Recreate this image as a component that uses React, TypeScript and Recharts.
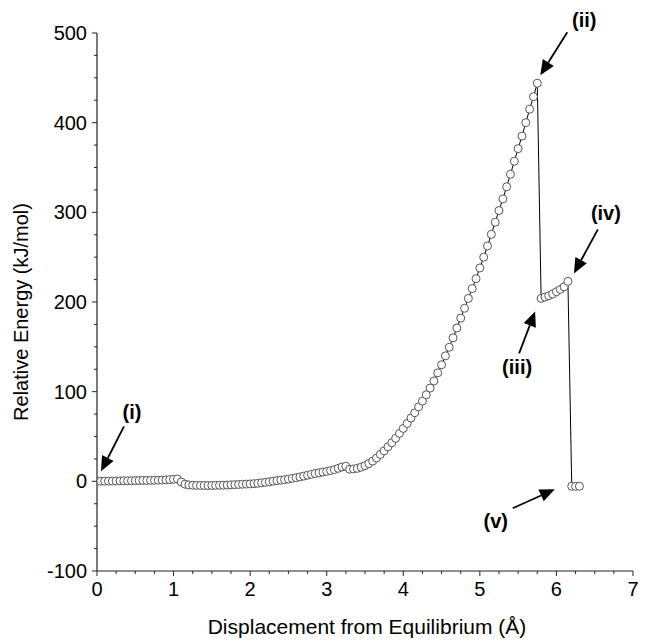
import React from 'react';
import { LineChart, Line, XAxis, YAxis, ReferenceDot } from 'recharts';

const FONT = '"Liberation Sans", Arial, Helvetica, sans-serif';

// Main scan branch: displacement (Å) and relative energy (kJ/mol)
const scanX = [
  0.0, 0.05, 0.1, 0.15, 0.2, 0.25, 0.3, 0.35, 0.4, 0.45,
  0.5, 0.55, 0.6, 0.65, 0.7, 0.75, 0.8, 0.85, 0.9, 0.95,
  1.0, 1.05, 1.1, 1.15, 1.2, 1.25, 1.3, 1.35, 1.4, 1.45,
  1.5, 1.55, 1.6, 1.65, 1.7, 1.75, 1.8, 1.85, 1.9, 1.95,
  2.0, 2.05, 2.1, 2.15, 2.2, 2.25, 2.3, 2.35, 2.4, 2.45,
  2.5, 2.55, 2.6, 2.65, 2.7, 2.75, 2.8, 2.85, 2.9, 2.95,
  3.0, 3.05, 3.1, 3.15, 3.2, 3.25, 3.3, 3.35, 3.4, 3.45,
  3.5, 3.55, 3.6, 3.65, 3.7, 3.75, 3.8, 3.85, 3.9, 3.95,
  4.0, 4.05, 4.1, 4.15, 4.2, 4.25, 4.3, 4.35, 4.4, 4.45,
  4.5, 4.55, 4.6, 4.65, 4.7, 4.75, 4.8, 4.85, 4.9, 4.95,
  5.0, 5.05, 5.1, 5.15, 5.2, 5.25, 5.3, 5.35, 5.4, 5.45,
  5.5, 5.55, 5.6, 5.65, 5.7, 5.75,
];
const scanE = [
  0, 0.1, 0.2, 0.3, 0.3, 0.4, 0.5, 0.6, 0.6, 0.7,
  0.8, 0.9, 1.0, 1.0, 1.1, 1.2, 1.3, 1.4, 1.6, 1.9,
  2.3, 2.6, -0.8, -3.2, -4.0, -4.3, -4.5, -4.6, -4.6, -4.7,
  -4.6, -4.5, -4.4, -4.3, -4.1, -3.9, -3.7, -3.5, -3.3, -3.1,
  -2.9, -2.6, -2.2, -1.7, -1.1, -0.5, 0.2, 0.8, 1.3, 1.8,
  2.5, 3.3, 4.1, 4.9, 5.8, 6.8, 7.8, 8.7, 9.5, 10.3,
  11.0, 12.0, 13.0, 14.5, 16.0, 16.8, 13.5, 13.8, 14.5, 15.8,
  17.5, 19.8, 22.6, 26.0, 30.0, 34.0, 38.5, 43.0, 48.0, 53.5,
  59.0, 64.5, 70.5, 76.5, 83.0, 89.5, 96.5, 104.0, 112.0, 121.0,
  130.0, 140.0, 149.5, 160.0, 171.0, 182.0, 193.0, 204.0, 215.0, 226.0,
  238.0, 250.0, 262.5, 275.5, 289.0, 302.0, 315.0, 328.5, 342.5, 357.0,
  371.0, 385.0, 400.0, 415.0, 429.0, 444.0,
];

// Intermediate branch after the first bond break, (iii) to (iv)
const branchX = [5.8, 5.85, 5.9, 5.95, 6.0, 6.05, 6.1, 6.15];
const branchE = [204, 205.5, 207, 209, 211.5, 214, 217, 223];

// Final products, (v)
const productX = [6.2, 6.25, 6.3];
const productE = [-5.5, -5.6, -5.5];

// Axis ticks (majors labelled, quarters as minor marks)
const xTicks = [
  0, 0.25, 0.5, 0.75, 1, 1.25, 1.5, 1.75, 2, 2.25, 2.5, 2.75, 3, 3.25, 3.5,
  3.75, 4, 4.25, 4.5, 4.75, 5, 5.25, 5.5, 5.75, 6, 6.25, 6.5, 6.75, 7,
];
const xMajor = [0, 1, 2, 3, 4, 5, 6, 7];
const yTicks = [
  -100, -75, -50, -25, 0, 25, 50, 75, 100, 125, 150, 175, 200, 225, 250,
  275, 300, 325, 350, 375, 400, 425, 450, 475, 500,
];
const yMajor = [-100, 0, 100, 200, 300, 400, 500];

// Labelled stationary points
const pointLabels = ['(i)', '(ii)', '(iii)', '(iv)', '(v)'];
const pointX = [0, 5.75, 5.8, 6.15, 6.2];
const pointE = [0, 444, 204, 223, -5.5];

// Pixel offsets of each arrow (tip, tail) and its caption from the marked point
const ARROW_LAYOUT = [
  { tip: [4, -10], tail: [27, -55], text: [35, -62] },
  { tip: [3, -8], tail: [30, -51], text: [47, -56] },
  { tip: [-6, 13], tail: [-22, 55], text: [-24, 76] },
  { tip: [6, -8], tail: [30, -52], text: [38, -61] },
  { tip: [-17, 3], tail: [-59, 22], text: [-76, 42] },
];

const data = [
  ...scanX.map((x, i) => ({ x, e: scanE[i] })),
  ...branchX.map((x, i) => ({ x, e: branchE[i] })),
  ...productX.map((x, i) => ({ x, e: productE[i] })),
];

const AXIS = '#222';
const isMajor = (v: number, list: number[]) => list.some((m) => Math.abs(m - v) < 1e-9);

const XTick = (props: any) => {
  const { x, y, payload } = props;
  const major = isMajor(payload.value, xMajor);
  return (
    <g>
      <line x1={x} x2={x} y1={y} y2={y + (major ? 5 : 3)} stroke={AXIS} strokeWidth={1} />
      {major && (
        <text x={x} y={y + 25} textAnchor="middle" fontSize={20} fontFamily={FONT} fill="#000">
          {payload.value}
        </text>
      )}
    </g>
  );
};

const YTick = (props: any) => {
  const { x, y, payload } = props;
  const major = isMajor(payload.value, yMajor);
  return (
    <g>
      <line x1={x} x2={x - (major ? 5 : 3)} y1={y} y2={y} stroke={AXIS} strokeWidth={1} />
      {major && (
        <text x={x - 10} y={y + 7} textAnchor="end" fontSize={20} fontFamily={FONT} fill="#000">
          {payload.value}
        </text>
      )}
    </g>
  );
};

const XLabel = (props: any) => {
  const vb = props.viewBox;
  return (
    <text x={vb.x + vb.width / 2 + 2} y={vb.y + 63} textAnchor="middle" fontSize={21} fontFamily={FONT} fill="#000">
      Displacement from Equilibrium (Å)
    </text>
  );
};

const YLabel = (props: any) => {
  const vb = props.viewBox;
  const cx = vb.x + 28;
  const cy = vb.y + vb.height / 2 + 10;
  return (
    <text
      x={cx}
      y={cy}
      transform={`rotate(-90, ${cx}, ${cy})`}
      textAnchor="middle"
      fontSize={20}
      fontFamily={FONT}
      fill="#000"
    >
      Relative Energy (kJ/mol)
    </text>
  );
};

const Callout = (props: any) => {
  const { cx, cy, idx } = props;
  const lay = ARROW_LAYOUT[idx];
  const tipX = cx + lay.tip[0];
  const tipY = cy + lay.tip[1];
  const tailX = cx + lay.tail[0];
  const tailY = cy + lay.tail[1];
  const ang = Math.atan2(tipY - tailY, tipX - tailX);
  const L = 15;
  const W = 6.5;
  const bx = tipX - L * Math.cos(ang);
  const by = tipY - L * Math.sin(ang);
  const p1x = bx + W * Math.sin(ang);
  const p1y = by - W * Math.cos(ang);
  const p2x = bx - W * Math.sin(ang);
  const p2y = by + W * Math.cos(ang);
  return (
    <g>
      <line x1={tailX} y1={tailY} x2={bx} y2={by} stroke="#000" strokeWidth={1.8} />
      <polygon points={`${tipX},${tipY} ${p1x},${p1y} ${p2x},${p2y}`} fill="#000" />
      <text
        x={cx + lay.text[0]}
        y={cy + lay.text[1]}
        textAnchor="middle"
        fontSize={20}
        fontWeight="bold"
        fontFamily={FONT}
        fill="#000"
      >
        {pointLabels[idx]}
      </text>
    </g>
  );
};

export default function App() {
  return (
    <div style={{ position: 'absolute', left: 0, top: 0, background: '#fff' }}>
      <LineChart width={647} height={643} data={data} margin={{ top: 33, right: 14, bottom: 0, left: 0 }}>
        <XAxis
          type="number"
          dataKey="x"
          domain={[0, 7]}
          ticks={xTicks}
          interval={0}
          tickLine={false}
          tickSize={0}
          tickMargin={0}
          tick={<XTick />}
          height={72}
          axisLine={{ stroke: AXIS, strokeWidth: 1.2 }}
          allowDataOverflow
          label={XLabel}
        />
        <YAxis
          type="number"
          dataKey="e"
          domain={[-100, 500]}
          ticks={yTicks}
          interval={0}
          tickLine={false}
          tickSize={0}
          tickMargin={0}
          tick={<YTick />}
          width={97}
          axisLine={{ stroke: AXIS, strokeWidth: 1.2 }}
          allowDataOverflow
          label={YLabel}
        />
        <Line
          type="linear"
          dataKey="e"
          stroke="#000"
          strokeWidth={1}
          dot={{ r: 4, fill: '#fff', stroke: '#555', strokeWidth: 1 }}
          activeDot={false}
          isAnimationActive={false}
        />
        {pointLabels.map((lbl, i) => (
          <ReferenceDot
            key={lbl}
            x={pointX[i]}
            y={pointE[i]}
            r={0}
            ifOverflow="visible"
            shape={(p: any) => <Callout {...p} idx={i} />}
          />
        ))}
      </LineChart>
    </div>
  );
}
